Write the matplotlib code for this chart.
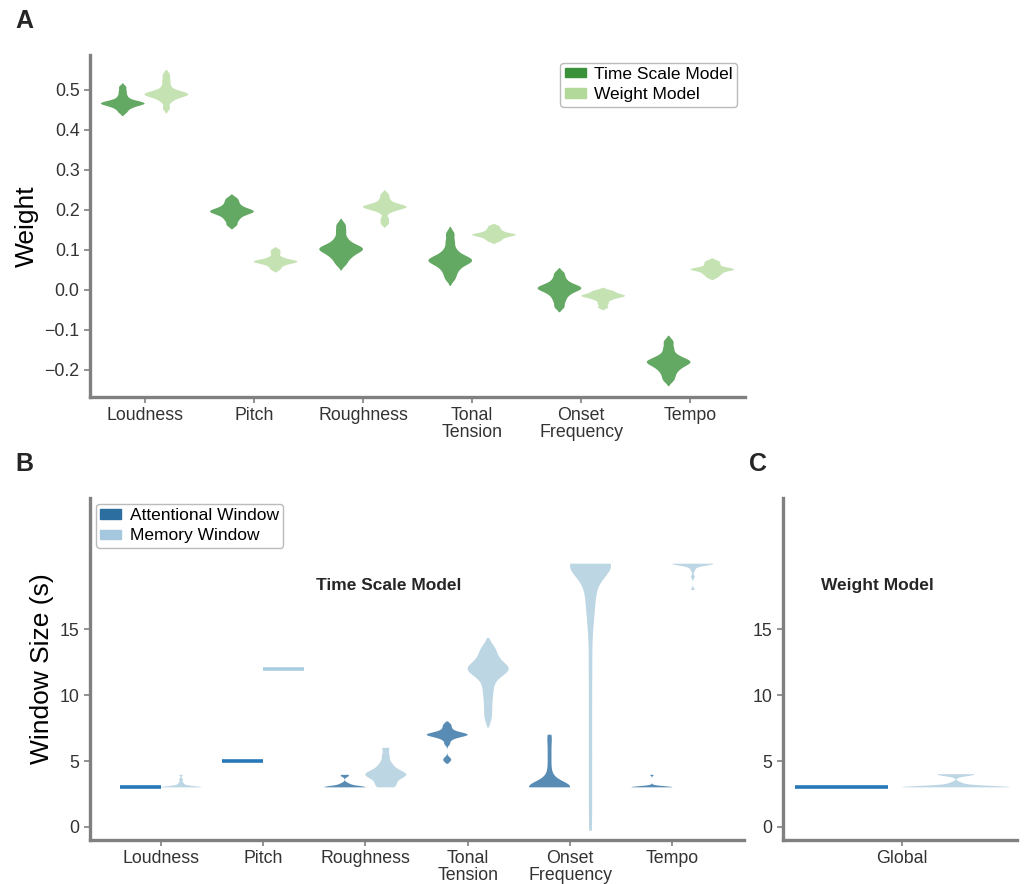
import numpy as np
import matplotlib
matplotlib.use('Agg')
import matplotlib.pyplot as plt
from matplotlib import mlab
from matplotlib.patches import Patch

plt.rcParams['font.family'] = ['Liberation Sans', 'DejaVu Sans']

features = ['Loudness', 'Pitch', 'Roughness', 'Tonal\nTension', 'Onset\nFrequency', 'Tempo']

# Panel A - feature weights, samples
ts_loud = [0.444, 0.452, 0.457, 0.460, 0.463, 0.465, 0.466, 0.467, 0.468, 0.470, 0.473, 0.478, 0.486, 0.496, 0.507]
ts_pitch = [0.162, 0.173, 0.181, 0.187, 0.191, 0.194, 0.196, 0.198, 0.201, 0.205, 0.211, 0.219, 0.228]
ts_rough = [0.064, 0.076, 0.084, 0.090, 0.095, 0.099, 0.102, 0.104, 0.107, 0.112, 0.119, 0.130, 0.146, 0.162]
ts_tonal = [0.027, 0.041, 0.052, 0.060, 0.066, 0.070, 0.073, 0.075, 0.078, 0.083, 0.090, 0.102, 0.120, 0.140]
ts_onset = [-0.043, -0.029, -0.018, -0.010, -0.004, 0.000, 0.003, 0.005, 0.008, 0.012, 0.018, 0.028, 0.041]
ts_tempo = [-0.226, -0.213, -0.202, -0.195, -0.189, -0.184, -0.181, -0.179, -0.176, -0.170, -0.162, -0.147, -0.130]

wm_loud = [0.454, 0.470, 0.478, 0.483, 0.486, 0.488, 0.489, 0.490, 0.492, 0.495, 0.500, 0.511, 0.524, 0.538]
wm_pitch = [0.051, 0.058, 0.063, 0.066, 0.068, 0.070, 0.071, 0.072, 0.074, 0.077, 0.082, 0.091, 0.099]
wm_rough = [0.166, 0.178, 0.194, 0.200, 0.204, 0.206, 0.207, 0.208, 0.210, 0.213, 0.218, 0.227, 0.238]
wm_tonal = [0.121, 0.126, 0.130, 0.133, 0.135, 0.137, 0.138, 0.139, 0.141, 0.144, 0.148, 0.153, 0.159]
wm_onset = [-0.044, -0.035, -0.027, -0.022, -0.019, -0.017, -0.015, -0.014, -0.012, -0.009, -0.005, -0.002]
wm_tempo = [0.031, 0.037, 0.041, 0.045, 0.048, 0.050, 0.051, 0.052, 0.054, 0.057, 0.062, 0.067, 0.072]

# Panel B - time scale model windows (s)
att_loud = [3.0, 3.0, 3.0]
att_pitch = [5.0, 5.0, 5.0]
att_rough = [3.0] * 8 + [3.1, 3.2, 3.3, 3.85, 3.95]
att_tonal = [5.0, 5.2, 6.3, 6.6, 6.75, 6.85, 6.9, 6.95, 7.0, 7.0, 7.0, 7.05, 7.1, 7.15, 7.25, 7.4, 7.6, 7.8]
att_onset = [3.0] * 16 + [3.2, 3.4, 3.6, 3.8, 4.2, 4.8, 5.4, 6.0, 6.6, 7.0]
att_tempo = [3.0] * 10 + [3.05, 3.1, 3.95]

mem_loud = [3.0] * 10 + [3.1, 3.2, 3.35, 3.6, 3.95]
mem_pitch = [12.0, 12.0, 12.0]
mem_rough = [3.0, 3.1, 3.3, 3.5, 3.7, 3.8, 3.9, 4.0, 4.0, 4.1, 4.2, 4.4, 4.6, 4.9, 5.4, 6.0]
mem_tonal = [8.2, 8.9, 9.6, 10.2, 10.7, 11.2, 11.5, 11.7, 11.85, 11.95, 12.0, 12.05, 12.15, 12.3, 12.5,
             12.8, 13.1, 13.4, 13.7]
mem_onset = [20.0] * 14 + [19.9, 19.8, 19.6, 19.4, 19.1, 18.8, 18.4, 18.1, 17.6, 17.2, 16.8, 16.2,
                           15.6, 14.8, 13.6, 12.3, 11.0, 9.6, 8.2, 6.8, 5.4, 4.0, 2.6, 1.2, -0.3]
mem_tempo = [18.0, 19.0, 19.5, 19.75, 19.9] + [20.0] * 10

# Panel C - weight model, global windows (s)
glob_att = [3.0, 3.0, 3.0]
glob_mem = [3.0] * 12 + [3.1, 3.2, 3.35, 3.85, 3.95, 4.0, 4.0, 4.0]

ts_weights = [ts_loud, ts_pitch, ts_rough, ts_tonal, ts_onset, ts_tempo]
wm_weights = [wm_loud, wm_pitch, wm_rough, wm_tonal, wm_onset, wm_tempo]
att_windows = [att_loud, att_pitch, att_rough, att_tonal, att_onset, att_tempo]
mem_windows = [mem_loud, mem_pitch, mem_rough, mem_tonal, mem_onset, mem_tempo]

# kde bandwidth factor and tail cut per violin
bw_att = [0.3, 0.3, 0.3, 0.2, 0.33, 0.3]
bw_mem = [0.3, 0.3, 0.3, 0.3, 0.14, 0.25]
cut_att = [0, 0, 0, 1.5, 0, 0]
cut_mem = [0, 0, 0, 1.5, 0, 0]

GREEN_D, GREEN_L = '#63a863', '#c4e2b2'
GREEN_D_LEG, GREEN_L_LEG = '#3a913a', '#b2d89a'
BLUE_D, BLUE_L = '#588cb4', '#bcd6e4'
BLUE_D_LINE, BLUE_L_LINE = '#2678b9', '#a9cde0'
BLUE_D_LEG, BLUE_L_LEG = '#2c6ea0', '#a6c8de'


def kde_stats(vals, bw, cut):
    kde = mlab.GaussianKDE(vals, bw)
    pad = cut * kde.factor * vals.std()
    coords = np.linspace(vals.min() - pad, vals.max() + pad, 300)
    return dict(coords=coords, vals=kde.evaluate(coords), mean=vals.mean(),
                median=np.median(vals), min=vals.min(), max=vals.max())


def violins(ax, data, positions, width, color, line_color, bws, cuts):
    for vals, pos, bw, cut in zip(data, positions, bws, cuts):
        vals = np.asarray(vals, float)
        if np.ptp(vals) == 0:
            ax.hlines(vals[0], pos - width / 2, pos + width / 2, color=line_color, lw=2.6)
            continue
        parts = ax.violin([kde_stats(vals, bw, cut)], positions=[pos], widths=width,
                          showmeans=False, showextrema=False, showmedians=False)
        for b in parts['bodies']:
            b.set_facecolor(color)
            b.set_edgecolor('none')
            b.set_alpha(1)


def style(ax):
    for s in ['top', 'right']:
        ax.spines[s].set_visible(False)
    for s in ['left', 'bottom']:
        ax.spines[s].set_color('#808080')
        ax.spines[s].set_linewidth(2.4)
    ax.tick_params(color='#808080', labelcolor='#333333', labelsize=12.8, length=4, width=1.2)
    ax.tick_params(axis='x', pad=3)
    for t in ax.get_xticklabels():
        t.set_linespacing(1.05)


fig = plt.figure(figsize=(10.26, 8.84), dpi=100)
axA = fig.add_axes([0.0877, 0.551, 0.6385, 0.387])
axB = fig.add_axes([0.0877, 0.0498, 0.6375, 0.387])
axC = fig.add_axes([0.763, 0.0498, 0.228, 0.387])

x = np.arange(len(features))

# A
violins(axA, ts_weights, x - 0.2, 0.4, GREEN_D, GREEN_D, [0.3] * 6, [2] * 6)
violins(axA, wm_weights, x + 0.2, 0.4, GREEN_L, GREEN_L, [0.3] * 6, [2] * 6)
axA.set_xlim(-0.5, 5.5)
axA.set_ylim(-0.268, 0.588)
axA.set_xticks(x)
axA.set_xticklabels(features)
axA.set_yticks([-0.2, -0.1, 0.0, 0.1, 0.2, 0.3, 0.4, 0.5])
axA.set_ylabel('Weight', fontsize=19)
style(axA)
axA.legend(handles=[Patch(color=GREEN_D_LEG, label='Time Scale Model'),
                    Patch(color=GREEN_L_LEG, label='Weight Model')],
           loc='upper right', fontsize=12.5, handlelength=1.2, handleheight=0.45,
           labelspacing=0.3, borderaxespad=0.45, borderpad=0.25, handletextpad=0.5,
           edgecolor='#bbbbbb', framealpha=1)

# B
violins(axB, att_windows, x - 0.2, 0.4, BLUE_D, BLUE_D_LINE, bw_att, cut_att)
violins(axB, mem_windows, x + 0.2, 0.4, BLUE_L, BLUE_L_LINE, bw_mem, cut_mem)
axB.set_xlim(-0.69, 5.7)
axB.set_ylim(-1, 25)
axB.set_xticks(x)
axB.set_xticklabels(features)
axB.set_yticks([0, 5, 10, 15])
axB.set_ylabel('Window Size (s)', fontsize=19)
style(axB)
axB.legend(handles=[Patch(color=BLUE_D_LEG, label='Attentional Window'),
                    Patch(color=BLUE_L_LEG, label='Memory Window')],
           loc='upper left', fontsize=12.5, handlelength=1.2, handleheight=0.45,
           labelspacing=0.3, borderaxespad=0.35, borderpad=0.25, handletextpad=0.5,
           edgecolor='#bbbbbb', framealpha=1)
axB.text(0.457, 0.743, 'Time Scale Model', transform=axB.transAxes, ha='center', va='center',
         fontsize=12.5, fontweight='bold', color='#262626')

# C
violins(axC, [glob_att], [-0.26], 0.4, BLUE_D, BLUE_D_LINE, [0.3], [0])
violins(axC, [glob_mem], [0.23], 0.46, BLUE_L, BLUE_L_LINE, [0.25], [0])
axC.set_xlim(-0.51, 0.49)
axC.set_ylim(-1, 25)
axC.set_xticks([0])
axC.set_xticklabels(['Global'])
axC.set_yticks([0, 5, 10, 15])
style(axC)
axC.text(0.406, 0.743, 'Weight Model', transform=axC.transAxes, ha='center', va='center',
         fontsize=12.5, fontweight='bold', color='#262626')

for lab, px, py in [('A', 24, 21), ('B', 24, 464), ('C', 758, 464)]:
    fig.text(px / 1026, 1 - py / 884, lab, fontsize=18, fontweight='bold',
             ha='center', va='center', color='#262626')

fig.savefig('out.png', dpi=100)
